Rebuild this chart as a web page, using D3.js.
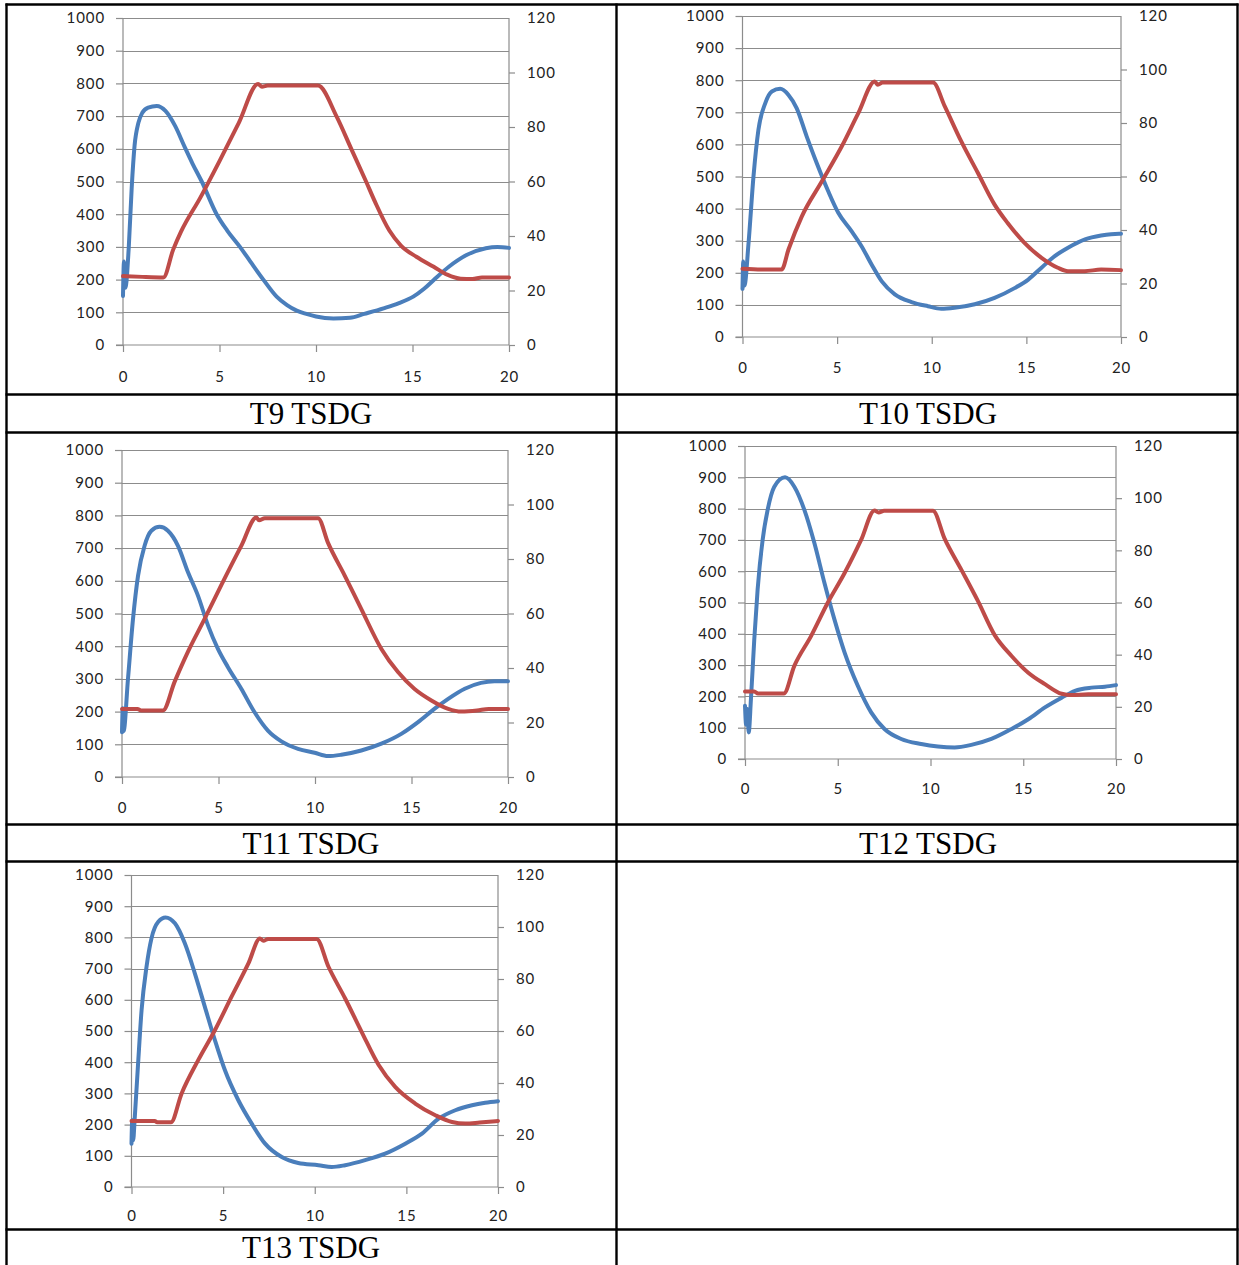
<!DOCTYPE html>
<html><head><meta charset="utf-8">
<script src="https://cdn.jsdelivr.net/npm/d3@7"></script>
<style>
html,body{margin:0;padding:0;background:#fff;}
svg{display:block;}
.tick-lab{font-family:Lato,"Open Sans",sans-serif;font-size:15px;fill:#222;letter-spacing:0.9px;}
.cap{font-family:"Liberation Serif","Times New Roman",serif;font-size:31px;fill:#000;}
</style></head>
<body>
<svg id="chart" width="1239" height="1265"></svg>
<script>
// ---- data (time in minutes, blue on left axis, red on right axis) ----
const captions = ["T9 TSDG", "T10 TSDG", "T11 TSDG", "T12 TSDG", "T13 TSDG"];
const xTicks = [0, 5, 10, 15, 20];
const leftTicks = [0, 100, 200, 300, 400, 500, 600, 700, 800, 900, 1000];
const rightTicks = [0, 20, 40, 60, 80, 100, 120];

const t9Blue = [[0,150],[0.05,255],[0.12,175],[0.3,300],[0.45,480],[0.6,610],[0.8,680],[1.0,710],[1.3,726],[1.75,731],[2.2,716],[2.7,670],[3.2,605],[3.6,555],[4.08,500],[4.85,400],[5.4,350],[6.06,300],[6.6,255],[7.27,200],[7.96,148],[8.5,122],[9.0,105],[9.5,95],[10.0,87],[10.9,81],[11.76,83],[12.5,95],[13.5,112],[14.3,128],[15.04,148],[15.6,172],[16.1,199],[16.9,240],[17.8,275],[18.8,296],[19.4,300],[20,297]];
const t9Red = [[0,25.3],[1.0,25],[2.09,24.8],[2.6,35],[3.0,41.5],[4.0,54],[5.0,67.5],[6.0,81.5],[7.0,95.8],[7.2,94.8],[7.5,95.2],[10.1,95.2],[11.07,83.8],[11.85,71.6],[12.6,59.9],[13.06,52.5],[13.8,42],[14.4,36.5],[15.2,32.4],[16.1,28.7],[16.8,25.8],[17.5,24.3],[18.1,24.2],[18.6,24.8],[20,24.8]];

const t10Blue = [[0,150],[0.04,235],[0.1,160],[0.32,293],[0.58,500],[0.84,645],[1.2,728],[1.55,765],[1.99,773],[2.43,754],[2.86,713],[3.39,625],[3.92,542],[4.53,454],[5.06,387],[5.76,330],[6.29,283],[6.82,226],[7.35,174],[8.05,133],[8.93,109],[9.8,96],[10.5,88],[11.2,91],[12.27,102],[13.32,122],[14.4,153],[15.1,179],[15.8,216],[16.5,252],[17.2,278],[18.1,304],[18.95,316],[19.9,322],[20,322]];
const t10Red = [[0,25.5],[1.0,25.2],[2.07,25.2],[2.43,32.7],[3.13,45],[4.18,58],[5.24,71.2],[6.12,83.7],[6.99,95.5],[7.15,94.3],[7.4,95.1],[10.07,95.1],[10.69,86.2],[11.56,73.1],[12.44,61.3],[13.32,49.5],[14.0,42.7],[14.9,35.2],[15.8,29.6],[16.66,25.9],[17.2,24.6],[18.07,24.6],[18.95,25.2],[20,25]];

const t11Blue = [[0,137],[0.04,210],[0.08,140],[0.31,300],[0.57,483],[0.83,615],[1.17,707],[1.52,753],[1.95,765],[2.38,753],[2.9,707],[3.42,626],[3.94,554],[4.46,463],[4.97,392],[5.49,336],[6.18,270],[6.87,198],[7.56,142],[8.26,109],[9.12,86],[9.98,74],[10.67,64],[11.36,68],[12.4,81],[13.44,102],[14.47,132],[15.34,168],[16.2,209],[16.9,239],[17.76,270],[18.6,288],[19.3,293],[20,293]];
const t11Red = [[0,25],[0.8,25],[1.0,24.4],[2.12,24.4],[2.73,35],[3.42,46],[4.28,58],[5.15,70.5],[6.18,84.8],[6.96,95.2],[7.1,94.2],[7.4,95],[10.16,95],[10.67,86],[11.54,73.9],[12.4,61.6],[13.44,47],[14.3,38.5],[15.16,32.3],[16.03,28.1],[16.9,25],[17.58,24],[18.4,24.4],[19.0,25],[20,25]];

const t12Blue = [[0,170],[0.06,110],[0.12,160],[0.2,85],[0.32,191],[0.5,382],[0.68,541],[0.95,700],[1.22,796],[1.58,870],[2.16,900],[2.66,870],[3.2,796],[3.74,690],[4.28,563],[4.82,446],[5.37,340],[6.08,234],[6.8,149],[7.52,96],[8.42,64],[9.5,48],[10.4,40],[11.3,37],[12.2,45],[13.28,64],[14.37,96],[15.27,127],[16.17,165],[17.07,196],[17.79,218],[18.68,228],[19.4,231],[20,236]];
const t12Red = [[0,25.9],[0.5,25.9],[0.7,25.1],[2.09,25.1],[2.66,35.7],[3.56,47.1],[4.46,59.9],[5.37,71.3],[6.26,84],[6.98,95.3],[7.2,94.5],[7.5,95.2],[10.13,95.2],[10.76,84.5],[11.66,72.6],[12.56,60.5],[13.46,47.5],[14.37,39.5],[15.27,33.1],[16.17,28.7],[17.07,25],[17.6,24.5],[18.5,24.8],[20,24.8]];

const t13Blue = [[0,139],[0.04,214],[0.09,150],[0.18,225],[0.36,396],[0.55,567],[0.82,706],[1.09,797],[1.46,850],[1.86,864],[2.37,845],[2.91,781],[3.46,684],[4.0,578],[4.55,471],[5.1,374],[5.83,278],[6.56,203],[7.29,139],[8.2,96],[9.1,77],[10.2,70],[10.93,64],[11.66,70],[12.75,86],[13.84,107],[14.94,139],[15.85,171],[16.76,219],[17.67,246],[18.58,262],[19.3,270],[20,275]];
const t13Red = [[0,25.4],[1.27,25.4],[1.4,24.9],[2.15,24.9],[2.73,35.9],[3.64,48.8],[4.55,60.3],[5.46,73.2],[6.38,86],[7.01,95.6],[7.2,94.7],[7.45,95.4],[10.1,95.4],[10.75,84.7],[11.66,72.5],[12.57,59.5],[13.48,47],[14.39,38.5],[15.48,32.1],[16.58,27.6],[17.49,25],[18.22,24.4],[19,24.8],[20,25.4]];

const blueSeries = [t9Blue, t10Blue, t11Blue, t12Blue, t13Blue];
const redSeries = [t9Red, t10Red, t11Red, t12Red, t13Red];

// ---- layout ----
const panels = [
  {l:123,   r:509,  t:18,  b:345,  xlab:35, cx:311, cy:424},
  {l:742.5, r:1121, t:16,  b:337,  xlab:34, cx:928, cy:424},
  {l:122,   r:508,  t:450, b:777,  xlab:34, cx:311, cy:854},
  {l:745,   r:1116, t:446, b:759,  xlab:33, cx:928, cy:854},
  {l:131.5, r:498,  t:875, b:1187, xlab:32, cx:311, cy:1258}
];
const BLUE = "#4a7ebb", RED = "#be4b48", GRID = "#8c8c8c";

const svg = d3.select("#chart");

panels.forEach((p, i) => {
  const g = svg.append("g");
  const x = d3.scaleLinear().domain([0, 20]).range([p.l, p.r]);
  const yL = d3.scaleLinear().domain([0, 1000]).range([p.b, p.t]);
  const yR = d3.scaleLinear().domain([0, 120]).range([p.b, p.t]);

  // gridlines
  g.selectAll(".grid").data(leftTicks.filter(d => d > 0)).join("line")
    .attr("x1", p.l).attr("x2", p.r)
    .attr("y1", d => Math.round(yL(d)) + 0.5).attr("y2", d => Math.round(yL(d)) + 0.5)
    .attr("stroke", GRID).attr("stroke-width", 1);

  // left axis
  const axL = d3.axisLeft(yL).tickValues(leftTicks).tickSize(7).tickPadding(11).tickFormat(d3.format("d"));
  const gl = g.append("g").attr("transform", `translate(${p.l},0)`).call(axL);
  // right axis
  const axR = d3.axisRight(yR).tickValues(rightTicks).tickSize(6).tickPadding(12).tickFormat(d3.format("d"));
  const gr = g.append("g").attr("transform", `translate(${p.r},0)`).call(axR);
  gr.selectAll(".tick").filter(d => d === 120).select("line").remove();
  // bottom axis
  const axB = d3.axisBottom(x).tickValues(xTicks).tickSize(7).tickPadding(p.xlab - 16).tickFormat(d3.format("d"));
  const gb = g.append("g").attr("transform", `translate(0,${p.b})`).call(axB);

  [gl, gr, gb].forEach(a => {
    a.select(".domain").attr("stroke", GRID).attr("stroke-width", 1.2);
    a.selectAll(".tick line").attr("stroke", GRID).attr("stroke-width", 1.2);
    a.selectAll(".tick text").attr("class", "tick-lab").attr("font-family", null).attr("font-size", null);
  });
  gl.selectAll(".domain").attr("d", `M0,${p.t}V${p.b}`);
  gr.selectAll(".domain").attr("d", `M0,${p.t}V${p.b}`);
  gb.selectAll(".domain").attr("d", `M${p.l - 7},0H${p.r}`);

  // series
  const lineB = d3.line().x(d => x(d[0])).y(d => yL(d[1])).curve(d3.curveMonotoneX);
  const lineR = d3.line().x(d => x(d[0])).y(d => yR(d[1])).curve(d3.curveMonotoneX);
  g.append("path").datum(blueSeries[i]).attr("d", lineB)
    .attr("fill", "none").attr("stroke", BLUE).attr("stroke-width", 4)
    .attr("stroke-linejoin", "round").attr("stroke-linecap", "round");
  g.append("path").datum(redSeries[i]).attr("d", lineR)
    .attr("fill", "none").attr("stroke", RED).attr("stroke-width", 4)
    .attr("stroke-linejoin", "round").attr("stroke-linecap", "round");

  // caption
  svg.append("text").attr("class", "cap").attr("x", p.cx).attr("y", p.cy)
    .attr("text-anchor", "middle").text(captions[i]);
});

// table borders
const hLines = [4.5, 394.5, 432.5, 824.5, 861.5, 1229.5];
const vLines = [6.5, 616.5, 1237.5];
svg.append("g").selectAll("line").data(hLines).join("line")
  .attr("x1", 5.5).attr("x2", 1238.5).attr("y1", d => d).attr("y2", d => d)
  .attr("stroke", "#000").attr("stroke-width", 2.4);
svg.append("g").selectAll("line").data(vLines).join("line")
  .attr("x1", d => d).attr("x2", d => d).attr("y1", 3.5).attr("y2", 1265)
  .attr("stroke", "#000").attr("stroke-width", 2.4);
</script>
</body></html>
